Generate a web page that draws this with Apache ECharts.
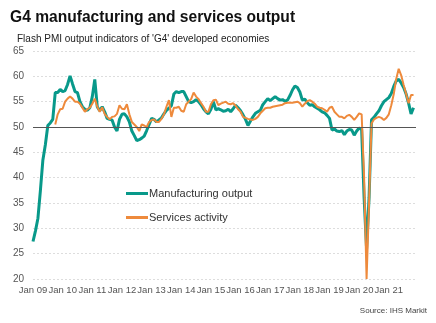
<!DOCTYPE html>
<html>
<head>
<meta charset="utf-8">
<script src="https://cdn.jsdelivr.net/npm/echarts@6/dist/echarts.min.js"></script>
<style>
  html, body { margin: 0; padding: 0; background: #ffffff; }
  #chart { width: 436px; height: 323px; }
</style>
</head>
<body>
<div id="chart"></div>
<script>
// Year tick labels (one per January); monthly categories are built from these
var yearLabels = ['Jan 09', 'Jan 10', 'Jan 11', 'Jan 12', 'Jan 13', 'Jan 14', 'Jan 15',
                  'Jan 16', 'Jan 17', 'Jan 18', 'Jan 19', 'Jan 20', 'Jan 21'];
var monthsAfterLast = 11; // axis runs to Dec 21

// Manufacturing output index, monthly from Jan 2009 to Nov 2021
var manufacturing = [
  27.4, 29.5, 32.0, 37.5, 43.5, 46.5, 50.3, 50.8, 51.5, 56.8, 56.8, 57.4,
  57.0, 57.2, 58.4, 60.1, 58.5, 57.0, 56.8, 55.0, 54.0, 53.5, 53.3, 53.8,
  56.0, 59.4, 54.0, 53.2, 54.0, 53.0, 51.7, 51.5, 51.4, 50.0, 49.2, 51.5,
  52.5, 52.6, 52.0, 51.0, 49.2, 48.3, 47.3, 47.5, 47.8, 48.2, 49.3, 50.5,
  51.7, 51.5, 51.0, 51.4, 51.8, 52.6, 53.3, 53.7, 54.2, 56.5, 57.0, 56.8,
  57.0, 57.0, 56.0, 55.0, 54.8, 55.0, 55.4, 55.0, 54.4, 53.6, 53.0, 52.6,
  53.5, 55.0, 53.4, 53.6, 53.4, 53.1, 53.2, 53.5, 53.0, 53.6, 54.3, 53.8,
  53.2, 52.4, 51.5, 50.3, 51.2, 52.0, 52.7, 53.0, 53.3, 54.4, 55.0, 55.6,
  55.2, 55.6, 56.0, 55.6, 55.3, 55.4, 55.1, 55.3, 56.2, 57.3, 58.1, 57.8,
  56.9, 55.3, 55.5, 54.8, 54.3, 54.4, 54.0, 53.7, 53.4, 53.0, 52.8, 52.3,
  51.7, 49.4, 49.6, 49.2, 49.1, 49.3, 48.5, 49.2, 49.5, 49.4, 48.4, 49.2,
  49.8, 49.5, 36.0, 26.0, 36.0, 51.4, 51.9, 52.6, 53.2, 54.2, 55.0, 55.4,
  55.8, 56.6, 58.0, 59.1, 59.4, 58.7, 57.8, 56.5, 54.7, 52.6, 53.8
];

// Services activity index, monthly from Jan 2009 (series begins Oct 2009)
var services = [
  null, null, null, null, null, null, null, null, null, 50.5, 52.5, 53.5,
  53.6, 55.0, 55.6, 56.0, 55.6, 55.0, 55.0, 54.6, 53.8, 53.0, 53.5, 53.8,
  54.6, 55.6, 54.0, 53.0, 53.9, 52.6, 52.0, 51.5, 52.0, 52.1, 52.6, 54.3,
  53.6, 53.5, 54.5, 52.5, 51.0, 50.5, 50.0, 49.2, 50.5, 50.3, 50.0, 51.0,
  51.4, 51.5, 51.0, 51.0, 51.6, 52.5, 54.0, 55.3, 52.0, 53.8, 53.8, 54.0,
  53.2, 53.0, 54.5, 55.0, 55.5, 56.8, 56.0, 55.5, 54.7, 54.0, 53.0, 53.0,
  54.5, 55.3, 55.4, 54.3, 54.6, 54.8, 55.0, 54.6, 54.5, 54.7, 54.2, 53.5,
  53.0, 52.0, 51.8, 51.6, 51.5, 51.4, 51.6, 52.0, 52.7, 53.2, 53.7, 53.8,
  53.8, 54.0, 54.1, 54.2, 54.3, 54.4, 54.7, 54.8, 54.8, 54.8, 54.9, 55.0,
  54.7, 54.0, 54.6, 55.1, 55.3, 55.0, 54.6, 54.0, 53.8, 53.7, 53.4, 53.0,
  53.8, 54.0, 53.0, 52.5, 52.0, 52.0, 51.7, 52.2, 52.4, 52.0, 51.4, 52.0,
  52.7, 52.5, 40.0, 20.0, 35.0, 50.7, 51.5, 51.8, 52.0, 51.8, 51.4, 51.8,
  52.5, 54.3, 56.5, 59.5, 61.5, 60.2, 58.3, 56.5, 54.7, 56.3, 56.3
];

// Monthly category axis: each year label followed by 11 unlabeled months
var categories = [];
yearLabels.forEach(function (lab, y) {
  var span = (y === yearLabels.length - 1) ? monthsAfterLast + 1 : 12;
  for (var m = 0; m < span; m++) categories.push(m === 0 ? lab : lab.replace('Jan', 'M' + (m + 1)));
});

var teal = '#08998a';
var orange = '#ee8a3c';
var font = '"Liberation Sans", Arial, sans-serif';

var chart = echarts.init(document.getElementById('chart'), null, { renderer: 'canvas' });
chart.setOption({
  animation: false,
  backgroundColor: '#ffffff',
  title: [
    {
      text: 'G4 manufacturing and services output',
      left: 5, top: 5,
      textStyle: { fontFamily: font, fontSize: 15.6, fontWeight: 'bold', color: '#111111' }
    },
    {
      text: "Flash PMI output indicators of 'G4' developed economies",
      left: 12, top: 29,
      textStyle: { fontFamily: font, fontSize: 10, fontWeight: 'normal', color: '#222222' }
    },
    {
      text: 'Source: IHS Markit',
      right: 4, top: 302,
      textStyle: { fontFamily: font, fontSize: 8, fontWeight: 'normal', color: '#444444' }
    }
  ],
  legend: {
    orient: 'vertical',
    left: 121, top: 183,
    itemWidth: 22, itemHeight: 3, itemGap: 13,
    icon: 'rect',
    textStyle: { fontFamily: font, fontSize: 11, color: '#333333', padding: [0, 0, 0, -4] },
    data: ['Manufacturing output', 'Services activity']
  },
  grid: { left: 33, right: 20, top: 51, bottom: 44, containLabel: false },
  xAxis: {
    type: 'category',
    data: categories,
    boundaryGap: false,
    axisLine: { show: false },
    axisTick: { show: false },
    splitLine: { show: false },
    axisLabel: {
      interval: function (index) { return index % 12 === 0; },
      formatter: function (v) { return v.indexOf('Jan') === 0 ? v : ''; },
      hideOverlap: false,
      showMinLabel: true,
      fontFamily: font, fontSize: 9.5, color: '#555555', margin: 6
    }
  },
  yAxis: {
    type: 'value',
    min: 20, max: 65, interval: 5,
    axisLine: { show: false },
    axisTick: { show: false },
    axisLabel: { fontFamily: font, fontSize: 10, color: '#555555', margin: 9 },
    splitLine: { lineStyle: { color: '#dddddd', type: [2, 2], width: 1 } }
  },
  series: [
    {
      name: 'Services activity',
      type: 'line',
      data: services,
      showSymbol: false,
      connectNulls: false,
      z: 3,
      lineStyle: { color: orange, width: 2 },
      itemStyle: { color: orange }
    },
    {
      name: 'Manufacturing output',
      type: 'line',
      data: manufacturing,
      showSymbol: false,
      z: 2,
      lineStyle: { color: teal, width: 3 },
      itemStyle: { color: teal },
      markLine: {
        silent: true,
        symbol: 'none',
        label: { show: false },
        lineStyle: { color: '#555555', type: 'solid', width: 1 },
        data: [{ yAxis: 50 }]
      }
    }
  ]
});
</script>
</body>
</html>
